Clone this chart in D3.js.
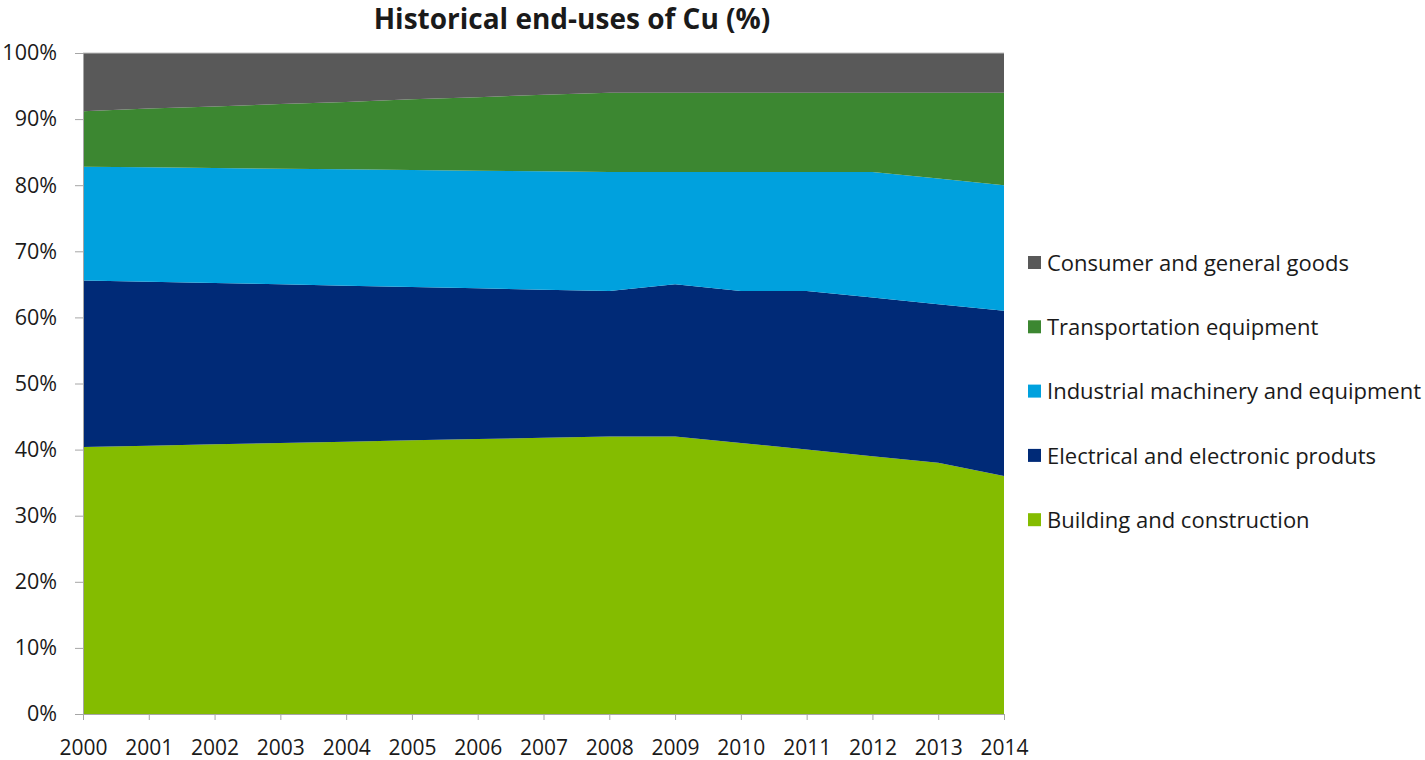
<!DOCTYPE html>
<html>
<head>
<meta charset="utf-8">
<script src="https://cdn.jsdelivr.net/npm/d3@7/dist/d3.min.js"></script>
<style>
  html, body { margin: 0; padding: 0; background: #fff; }
  svg { display: block; }
  text { font-family: "Open Sans", "Noto Sans", sans-serif; fill: #1a1a1a; }
</style>
</head>
<body>
<svg id="chart" width="1425" height="760"></svg>
<script>
// Share of copper end-uses by year (% of total)
const years = [2000, 2001, 2002, 2003, 2004, 2005, 2006, 2007, 2008, 2009, 2010, 2011, 2012, 2013, 2014];
const building   = [40.4, 40.6, 40.8, 41.0, 41.2, 41.4, 41.6, 41.8, 42.0, 42.0, 41.0, 40.0, 39.0, 38.0, 36.0];
const electrical = [25.2, 24.8, 24.4, 24.0, 23.6, 23.2, 22.8, 22.4, 22.0, 23.0, 23.0, 24.0, 24.0, 24.0, 25.0];
const industrial = [17.2, 17.3, 17.4, 17.5, 17.6, 17.7, 17.8, 17.9, 18.0, 17.0, 18.0, 18.0, 19.0, 19.0, 19.0];
const transport  = [8.4, 8.9, 9.3, 9.8, 10.2, 10.7, 11.1, 11.6, 12.0, 12.0, 12.0, 12.0, 12.0, 13.0, 14.0];
const consumer   = [8.8, 8.4, 8.1, 7.7, 7.4, 7.0, 6.7, 6.3, 6.0, 6.0, 6.0, 6.0, 6.0, 6.0, 6.0];

const seriesNames = [
  "Building and construction",
  "Electrical and electronic produts",
  "Industrial machinery and equipment",
  "Transportation equipment",
  "Consumer and general goods"
];
const seriesColors = ["#84bc00", "#002a77", "#00a1de", "#3c8731", "#595959"];
const yTicks = [0, 10, 20, 30, 40, 50, 60, 70, 80, 90, 100];
const chartTitle = "Historical end-uses of Cu (%)";

const seriesValues = [building, electrical, industrial, transport, consumer];
const keys = seriesNames;
const rows = years.map((yr, i) => {
  const row = { year: yr };
  keys.forEach((k, s) => { row[k] = seriesValues[s][i]; });
  return row;
});

const svg = d3.select("#chart");
const margin = { left: 83, right: 421, top: 53, bottom: 46 };
const W = 1425, H = 760;

const x = d3.scaleLinear()
  .domain([years[0], years[years.length - 1]])
  .range([margin.left, W - margin.right]);
const y = d3.scaleLinear()
  .domain([0, 100])
  .range([H - margin.bottom, margin.top]);

const stacked = d3.stack().keys(keys)(rows);

const area = d3.area()
  .x(d => x(d.data.year))
  .y0(d => y(d[0]))
  .y1(d => y(d[1]));

svg.append("g")
  .selectAll("path")
  .data(stacked)
  .join("path")
  .attr("d", area)
  .attr("fill", (d, i) => seriesColors[i]);

// top frame line of plot area
svg.append("line")
  .attr("x1", x(years[0])).attr("x2", x(years[years.length - 1]))
  .attr("y1", y(100)).attr("y2", y(100))
  .attr("stroke", "#bfbfbf").attr("stroke-width", 1);

// Y axis
const yAxis = d3.axisLeft(y)
  .tickValues(yTicks)
  .tickSize(8)
  .tickPadding(18)
  .tickFormat(d => d + "%");
const gy = svg.append("g")
  .attr("transform", `translate(${margin.left},0)`)
  .call(yAxis);
gy.select(".domain").attr("stroke", "#a6a6a6");
gy.selectAll(".tick line").attr("stroke", "#a6a6a6");
gy.selectAll(".tick text")
  .attr("font-size", 21.5)
  .attr("fill", "#1a1a1a")
  .attr("font-family", "'Open Sans', sans-serif");

// X axis
const xAxis = d3.axisBottom(x)
  .tickValues(years)
  .tickSize(6)
  .tickPadding(20)
  .tickFormat(d3.format("d"));
const gx = svg.append("g")
  .attr("transform", `translate(0,${H - margin.bottom})`)
  .call(xAxis);
gx.select(".domain").attr("stroke", "#a6a6a6");
gx.selectAll(".tick line").attr("stroke", "#a6a6a6");
gx.selectAll(".tick text")
  .attr("font-size", 21)
  .attr("fill", "#1a1a1a")
  .attr("font-family", "'Open Sans', sans-serif");

// Title
svg.append("text")
  .attr("x", 572)
  .attr("y", 29)
  .attr("text-anchor", "middle")
  .attr("font-size", 28)
  .attr("font-weight", "bold")
  .text(chartTitle);

// Legend (top entry is the topmost series)
const legendOrder = seriesNames.map((n, i) => ({ name: n, color: seriesColors[i] })).reverse();
const legend = svg.append("g");
const lg = legend.selectAll("g")
  .data(legendOrder)
  .join("g")
  .attr("transform", (d, i) => `translate(1028,${263 + i * 64.3})`);
lg.append("rect")
  .attr("x", 0).attr("y", -7)
  .attr("width", 13).attr("height", 13)
  .attr("fill", d => d.color);
lg.append("text")
  .attr("x", 19)
  .attr("y", 0)
  .attr("dy", "0.35em")
  .attr("font-size", 22)
  .text(d => d.name);
</script>
</body>
</html>
